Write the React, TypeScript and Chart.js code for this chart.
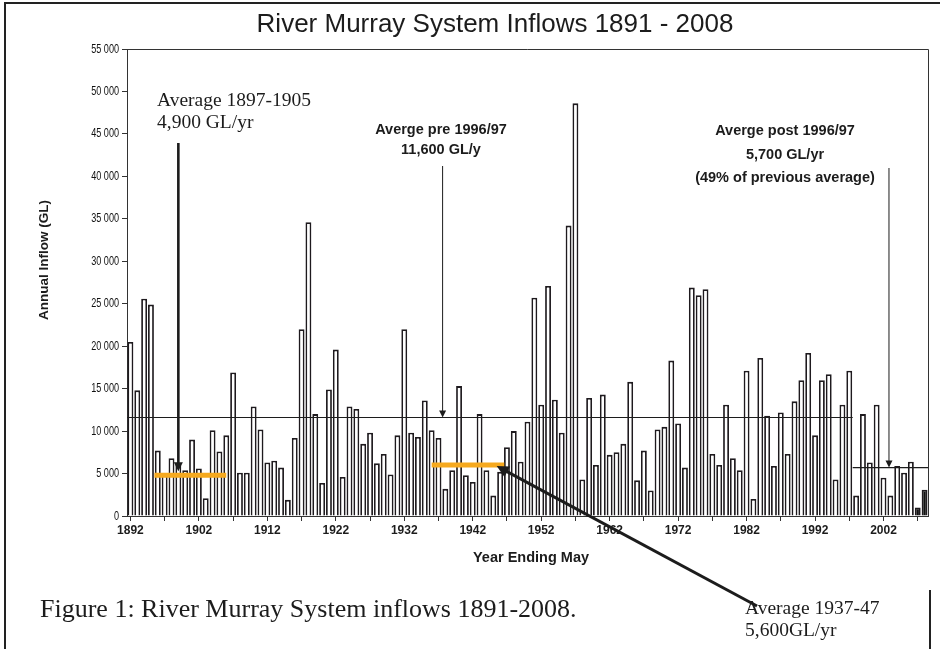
import React, { useEffect, useRef } from 'react';
import { Chart, registerables } from 'chart.js';

Chart.register(...registerables);

// ---------- DATA ----------
const firstYear = 1892;
const years: string[] = Array.from({ length: 117 }, (_, i) => String(firstYear + i)); // 1892 .. 2008

// Annual inflow (GL), year ending May
const inflowGL: number[] = [
  20500, 14800, 25600, 24900, 7700, 4800, 6800, 6000, 5400, 9000, // 1892-1901
  5600, 2100, 10100, 7600, 9500, 16900, 5100, 5100, 12900, 10200, // 1902-1911
  6300, 6500, 5700, 1900, 9200, 22000, 34600, 12000, 3900, 14900, // 1912-1921
  19600, 4600, 12900, 12600, 8500, 9800, 6200, 7300, 4900, 9500, // 1922-1931
  22000, 9800, 9300, 13600, 10100, 9200, 3200, 5400, 15300, 4800, // 1932-1941
  4000, 12000, 5400, 2400, 5200, 8100, 10000, 6400, 11100, 25700, // 1942-1951
  13100, 27100, 13700, 9800, 34200, 48600, 4300, 13900, 6000, 14300, // 1952-1961
  7200, 7500, 8500, 15800, 4200, 7700, 3000, 10200, 10500, 18300, // 1962-1971
  10900, 5700, 26900, 26000, 26700, 7300, 6000, 13100, 6800, 5400, // 1972-1981
  17100, 2000, 18600, 11800, 5900, 12200, 7300, 13500, 16000, 19200, // 1982-1991
  9500, 16000, 16700, 4300, 13100, 17100, 2400, 12000, 6300, 13100, // 1992-2001
  4500, 2400, 5900, 5100, 6400, 1000, 3100, // 2002-2008
];

const filledYears: string[] = ['2007', '2008'];
const labelledYears: string[] = ['1892', '1902', '1912', '1922', '1932', '1942', '1952', '1962', '1972', '1982', '1992', '2002'];
const yMax = 55000;
const yStep = 5000;

// averages (GL/yr)
const preAverage = 11600;      // up to 1996/97
const postAverage = 5700;      // after 1996/97
const avg1897to1905 = 4800;    // orange bar as drawn
const avg1937to1947 = 6000;    // orange bar as drawn
const preLastYear = 1997;

const titleText = 'River Murray System Inflows 1891 - 2008';
const yTitle = 'Annual Inflow (GL)';
const xTitle = 'Year Ending May';
const captionText = 'Figure 1: River Murray System inflows 1891-2008.';
const note1 = ['Average 1897-1905', '4,900 GL/yr'];
const note2 = ['Averge pre 1996/97', '11,600 GL/y'];
const note3 = ['Averge post 1996/97', '5,700 GL/yr', '(49% of previous average)'];
const note4 = ['Average 1937-47', '5,600GL/yr'];

// ---------- STYLE ----------
const SANS = '"Liberation Sans", Arial, Helvetica, sans-serif';
const SERIF = '"Liberation Serif", "Times New Roman", Times, serif';
const INK = '#1c1c1c';
const ORANGE = '#f6a91e';

function fmt(v: number): string {
  if (v < 1000) return String(v);
  return `${Math.floor(v / 1000)} ${String(v % 1000).padStart(3, '0')}`;
}

function arrow(ctx: CanvasRenderingContext2D, x1: number, y1: number, x2: number, y2: number, lw: number, head: number) {
  const ang = Math.atan2(y2 - y1, x2 - x1);
  ctx.save();
  ctx.strokeStyle = INK;
  ctx.fillStyle = INK;
  ctx.lineWidth = lw;
  ctx.beginPath();
  ctx.moveTo(x1, y1);
  ctx.lineTo(x2 - Math.cos(ang) * head * 0.8, y2 - Math.sin(ang) * head * 0.8);
  ctx.stroke();
  ctx.beginPath();
  ctx.moveTo(x2, y2);
  ctx.lineTo(x2 - Math.cos(ang) * head - Math.sin(ang) * head * 0.5, y2 - Math.sin(ang) * head + Math.cos(ang) * head * 0.5);
  ctx.lineTo(x2 - Math.cos(ang) * head + Math.sin(ang) * head * 0.5, y2 - Math.sin(ang) * head - Math.cos(ang) * head * 0.5);
  ctx.closePath();
  ctx.fill();
  ctx.restore();
}

const overlay = {
  id: 'overlay',
  beforeDraw(chart: any) {
    const ctx = chart.ctx;
    ctx.save();
    ctx.fillStyle = '#fff';
    ctx.fillRect(0, 0, chart.width, chart.height);
    ctx.restore();
  },
  afterDatasetsDraw(chart: any) {
    const ctx: CanvasRenderingContext2D = chart.ctx;
    const xs = chart.scales.x;
    const ys = chart.scales.y;
    const a = chart.chartArea;
    const p0 = xs.getPixelForValue(0);
    const slot = xs.getPixelForValue(1) - p0;
    const px = (yr: number) => p0 + (yr - firstYear) * slot;

    ctx.save();
    // plot frame top / right
    ctx.strokeStyle = '#333';
    ctx.lineWidth = 1;
    ctx.beginPath();
    ctx.moveTo(a.left, a.top + 0.5);
    ctx.lineTo(a.right + 0.5, a.top + 0.5);
    ctx.lineTo(a.right + 0.5, a.bottom);
    ctx.stroke();

    // y tick labels (condensed)
    ctx.fillStyle = '#111';
    ctx.font = `13px ${SANS}`;
    ctx.textAlign = 'right';
    ctx.textBaseline = 'middle';
    ys.ticks.forEach((t: any) => {
      const y = ys.getPixelForValue(t.value);
      ctx.save();
      ctx.translate(a.left - 8, y);
      ctx.scale(0.7, 1);
      ctx.fillText(fmt(t.value), 0, 0);
      ctx.restore();
    });

    // average lines
    const split = px(preLastYear) + slot * 0.5;
    ctx.strokeStyle = INK;
    ctx.lineWidth = 1.2;
    ctx.beginPath();
    ctx.moveTo(a.left, ys.getPixelForValue(preAverage));
    ctx.lineTo(split, ys.getPixelForValue(preAverage));
    ctx.moveTo(split, ys.getPixelForValue(postAverage));
    ctx.lineTo(a.right, ys.getPixelForValue(postAverage));
    ctx.stroke();

    // orange period averages
    ctx.strokeStyle = ORANGE;
    ctx.lineWidth = 5;
    ctx.beginPath();
    ctx.moveTo(px(1895.5), ys.getPixelForValue(avg1897to1905));
    ctx.lineTo(px(1906), ys.getPixelForValue(avg1897to1905));
    ctx.moveTo(px(1936), ys.getPixelForValue(avg1937to1947));
    ctx.lineTo(px(1946.6), ys.getPixelForValue(avg1937to1947));
    ctx.stroke();
    ctx.restore();

    // arrows
    arrow(ctx, px(1899), 143, px(1899), ys.getPixelForValue(avg1897to1905) - 4, 2.6, 9);
    arrow(ctx, px(1937.6), 166, px(1937.6), ys.getPixelForValue(preAverage), 1, 7);
    arrow(ctx, px(2002.8), 168, px(2002.8), ys.getPixelForValue(postAverage), 1, 7);
    arrow(ctx, 757, 606, px(1945.5), ys.getPixelForValue(avg1937to1947) + 1, 3, 12);
  },
  afterDraw(chart: any) {
    const ctx: CanvasRenderingContext2D = chart.ctx;
    ctx.save();
    // outer frame
    ctx.strokeStyle = '#222';
    ctx.lineWidth = 2;
    ctx.beginPath();
    ctx.moveTo(5, 649);
    ctx.lineTo(5, 3);
    ctx.lineTo(940, 3);
    ctx.moveTo(930, 590);
    ctx.lineTo(930, 649);
    ctx.stroke();

    ctx.fillStyle = INK;
    ctx.textBaseline = 'middle';
    // title
    ctx.textAlign = 'center';
    ctx.font = `26px ${SANS}`;
    ctx.fillText(titleText, 495, 25);
    // x title
    ctx.font = `bold 14.5px ${SANS}`;
    ctx.fillText(xTitle, 531, 558);
    // y title
    ctx.save();
    ctx.translate(44, 260);
    ctx.rotate(-Math.PI / 2);
    ctx.font = `bold 13.5px ${SANS}`;
    ctx.fillText(yTitle, 0, 0);
    ctx.restore();

    // sans bold notes
    ctx.font = `bold 14.5px ${SANS}`;
    ctx.fillText(note2[0], 441, 130);
    ctx.fillText(note2[1], 441, 150);
    ctx.fillText(note3[0], 785, 131);
    ctx.fillText(note3[1], 785, 155);
    ctx.fillText(note3[2], 785, 178);

    // serif notes
    ctx.textAlign = 'left';
    ctx.textBaseline = 'alphabetic';
    ctx.font = `19.5px ${SERIF}`;
    ctx.fillText(note1[0], 157, 106);
    ctx.fillText(note1[1], 157, 128);
    ctx.fillText(note4[0], 745, 614);
    ctx.fillText(note4[1], 745, 636);
    // caption
    ctx.font = `26px ${SERIF}`;
    ctx.fillText(captionText, 40, 617);
    ctx.restore();
  },
};

export default function App() {
  const ref = useRef<HTMLCanvasElement>(null);

  useEffect(() => {
    if (!ref.current) return;
    const chart = new Chart(ref.current, {
      type: 'bar',
      data: {
        labels: years,
        datasets: [
          {
            data: inflowGL,
            backgroundColor: (c: any) => (filledYears.includes(years[c.dataIndex]) ? '#111' : '#fff'),
            borderColor: '#1e1a1e',
            borderWidth: 1.8,
            barPercentage: 0.86,
            categoryPercentage: 1,
          },
        ],
      },
      options: {
        responsive: false,
        animation: false,
        events: [],
        layout: { padding: { top: 49, right: 12, bottom: 73, left: 0 } },
        plugins: { legend: { display: false }, tooltip: { enabled: false }, title: { display: false } },
        scales: {
          x: {
            type: 'category',
            grid: {
              display: true,
              drawOnChartArea: false,
              offset: false,
              tickLength: 5,
              color: (c: any) => (c.index % 5 === 0 ? '#333' : 'rgba(0,0,0,0)'),
            },
            border: { display: true, color: '#333', width: 1 },
            ticks: {
              autoSkip: false,
              maxRotation: 0,
              minRotation: 0,
              padding: 2,
              color: INK,
              font: { family: SANS, size: 12, weight: 'bold' },
              callback: (_v: any, i: number) => (labelledYears.includes(years[i]) ? years[i] : ''),
            },
            afterFit: (s: any) => {
              s.height = 60;
            },
          },
          y: {
            min: 0,
            max: yMax,
            grid: { display: true, drawOnChartArea: false, tickLength: 5, color: '#333' },
            border: { display: true, color: '#333', width: 1 },
            ticks: {
              stepSize: yStep,
              display: false,
            },
            afterFit: (s: any) => {
              s.width = 127;
            },
          },
        },
      },
      plugins: [overlay],
    } as any);
    return () => chart.destroy();
  }, []);

  return (
    <div style={{ position: 'absolute', left: 0, top: 0, width: 940, height: 649, background: '#fff' }}>
      <canvas ref={ref} width={940} height={649} style={{ display: 'block', width: 940, height: 649 }} />
    </div>
  );
}
